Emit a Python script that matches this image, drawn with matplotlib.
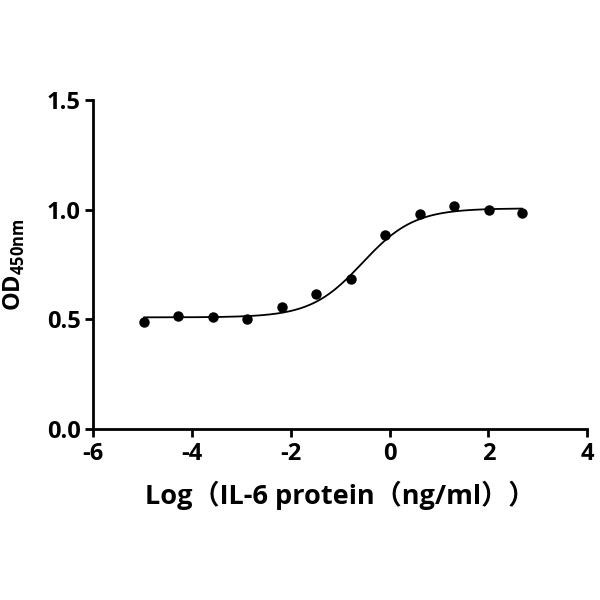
import numpy as np
import matplotlib
matplotlib.use("Agg")
import matplotlib.pyplot as plt

plt.rcParams['font.family'] = ['Open Sans', 'Noto Sans CJK SC', 'DejaVu Sans']
plt.rcParams['font.weight'] = 'bold'
plt.rcParams['axes.unicode_minus'] = False
plt.rcParams['mathtext.fontset'] = 'custom'
plt.rcParams['mathtext.bf'] = 'Open Sans:bold'
plt.rcParams['mathtext.rm'] = 'Open Sans:bold'

# measured points
log_conc = [-4.97, -4.28, -3.58, -2.89, -2.18, -1.48, -0.79, -0.09, 0.61, 1.31, 2.01, 2.68]
od450 = [0.487, 0.517, 0.511, 0.503, 0.556, 0.614, 0.684, 0.886, 0.982, 1.015, 0.999, 0.984]

# 4PL fit parameters
bottom = 0.509
top = 1.006
log_ec50 = -0.55
hill = 0.83

xfit = np.linspace(log_conc[0], log_conc[-1], 300)
yfit = bottom + (top - bottom) / (1 + 10 ** ((log_ec50 - xfit) * hill))

fig = plt.figure(figsize=(6, 6), dpi=100)
ax = fig.add_axes([0.1555, 0.285, 0.823, 0.5483])

ax.plot(xfit, yfit, color='black', lw=1.3)
ax.plot(log_conc, od450, 'o', color='black', ms=6.5)

ax.set_xlim(-6, 4)
ax.set_ylim(0, 1.5)
ax.set_xticks([-6, -4, -2, 0, 2, 4])
ax.set_xticklabels(['-6', '-4', '-2', '0', '2', '4'])
ax.set_yticks([0.0, 0.5, 1.0, 1.5])
ax.set_yticklabels(['0.0', '0.5', '1.0', '1.5'])

for s in ['top', 'right']:
    ax.spines[s].set_visible(False)
for s in ['left', 'bottom']:
    ax.spines[s].set_linewidth(2)
ax.tick_params(width=2, length=6, labelsize=17, pad=3)
for lab in ax.get_xticklabels() + ax.get_yticklabels():
    lab.set_fontweight('bold')

ax.set_xlabel('Log（IL-6 protein（ng/ml））', fontsize=19.5, fontweight='bold', labelpad=11)
ax.set_ylabel(r'OD$_{\mathbf{450nm}}$', fontsize=17, fontweight='bold', labelpad=14)

fig.savefig('out.png', dpi=100)
